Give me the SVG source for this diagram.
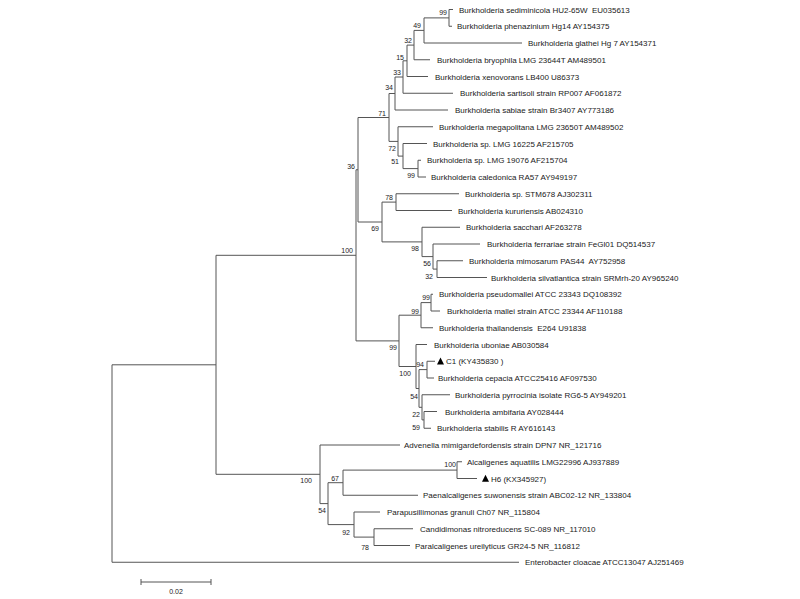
<svg xmlns="http://www.w3.org/2000/svg" width="800" height="599" viewBox="0 0 800 599">
<style>
.t{font-family:"Liberation Sans",Arial,sans-serif;font-size:8px;fill:#1a1a1a;white-space:pre}
.b{font-family:"Liberation Sans",Arial,sans-serif;font-size:7px;fill:#1a1a1a;text-anchor:end}
.e{fill:none;stroke:#555;stroke-width:1}
.m{fill:#000}
</style>
<rect width="800" height="599" fill="#fff"/>
<g id="connectors" class="e">
<path d="M449 9.5V26.25M424 17.9V43M414 30.4V59.75M407 45.1V76.5M403 60.8V93.25M395 77V110M389 93.5V141.4M398 126.75V156.1M403 143.5V168.6M418 160.25V177M358 117.5V222M382 202.1V241.9M396 193.75V210.5M422 227.25V256.6M433 244V269.1M437 260.75V277.5M356 169.75V340.9M399 315.2V366.5M421 302.6V327.75M431 294.25V311M416 344.5V388.5M419 369.6V407.3M427 361.25V378M422 394.75V419.9M424 411.5V428.25M216 255.3V474.3M320 445V503.6M328 482.7V524.6M343 470.1V495.25M457 461.75V478.5M354 512V537.1M374 528.75V545.5M112 364.8V562.25"/>
<path d="M424 17.9H449M414 30.4H424M407 45.1H414M403 60.8H407M395 77H403M389 93.5H395M358 117.5H389M389 141.4H398M398 156.1H403M403 168.6H418M356 169.75H358M358 222H382M382 202.1H396M382 241.9H422M422 256.6H433M433 269.1H437M216 255.3H356M356 340.9H399M399 315.2H421M421 302.6H431M399 366.5H416M416 388.5H419M419 369.6H427M419 407.3H422M422 419.9H424M112 364.8H216M216 474.3H320M320 503.6H328M328 482.7H343M343 470.1H457M328 524.6H354M354 537.1H374"/>
<path d="M449 9.5H453M449 26.25H452M424 43H522M414 59.75H430M407 76.5H428M403 93.25H453M395 110H448M398 126.75H433M403 143.5H427M418 160.25H421M418 177H426M396 193.75H459M396 210.5H452M422 227.25H460M433 244H480M437 260.75H463M437 277.5H487M431 294.25H433M431 311H440M421 327.75H433M416 344.5H427M427 361.25H435M427 378H434M422 394.75H450M424 411.5H437M424 428.25H431M320 445H400M457 461.75H462M457 478.5H477M343 495.25H418M354 512H380M374 528.75H413M374 545.5H410M112 562.25H519"/>
</g>
<g id="leaf-sediminicola"><text class="t" x="459" y="12.5">Burkholderia sediminicola HU2-65W  EU035613</text></g>
<g id="leaf-phenazinium"><text class="t" x="457" y="29.25">Burkholderia phenazinium Hg14 AY154375</text></g>
<g id="leaf-glathei"><text class="t" x="528" y="46">Burkholderia glathei Hg 7 AY154371</text></g>
<g id="leaf-bryophila"><text class="t" x="437" y="62.75">Burkholderia bryophila LMG 23644T AM489501</text></g>
<g id="leaf-xenovorans"><text class="t" x="435" y="79.5">Burkholderia xenovorans LB400 U86373</text></g>
<g id="leaf-sartisoli"><text class="t" x="460" y="96.25">Burkholderia sartisoli strain RP007 AF061872</text></g>
<g id="leaf-sabiae"><text class="t" x="455" y="113">Burkholderia sabiae strain Br3407 AY773186</text></g>
<g id="leaf-megapolitana"><text class="t" x="439" y="129.75">Burkholderia megapolitana LMG 23650T AM489502</text></g>
<g id="leaf-sp16225"><text class="t" x="433" y="146.5">Burkholderia sp. LMG 16225 AF215705</text></g>
<g id="leaf-sp19076"><text class="t" x="427" y="163.25">Burkholderia sp. LMG 19076 AF215704</text></g>
<g id="leaf-caledonica"><text class="t" x="431" y="180">Burkholderia caledonica RA57 AY949197</text></g>
<g id="leaf-stm678"><text class="t" x="465" y="196.75">Burkholderia sp. STM678 AJ302311</text></g>
<g id="leaf-kururiensis"><text class="t" x="458" y="213.5">Burkholderia kururiensis AB024310</text></g>
<g id="leaf-sacchari"><text class="t" x="466" y="230.25">Burkholderia sacchari AF263278</text></g>
<g id="leaf-ferrariae"><text class="t" x="487" y="247">Burkholderia ferrariae strain FeGl01 DQ514537</text></g>
<g id="leaf-mimosarum"><text class="t" x="469" y="263.75">Burkholderia mimosarum PAS44  AY752958</text></g>
<g id="leaf-silvatlantica"><text class="t" x="491" y="280.5">Burkholderia silvatlantica strain SRMrh-20 AY965240</text></g>
<g id="leaf-pseudomallei"><text class="t" x="439" y="297.25">Burkholderia pseudomallei ATCC 23343 DQ108392</text></g>
<g id="leaf-mallei"><text class="t" x="447" y="314">Burkholderia mallei strain ATCC 23344 AF110188</text></g>
<g id="leaf-thailandensis"><text class="t" x="439" y="330.75">Burkholderia thailandensis  E264 U91838</text></g>
<g id="leaf-uboniae"><text class="t" x="434" y="347.5">Burkholderia uboniae AB030584</text></g>
<g id="leaf-C1"><polygon class="m" points="437,364.5 444,364.5 440.5,357.5"/><text class="t" x="446" y="364.25">C1 (KY435830 )</text></g>
<g id="leaf-cepacia"><text class="t" x="438" y="381">Burkholderia cepacia ATCC25416 AF097530</text></g>
<g id="leaf-pyrrocinia"><text class="t" x="455" y="397.75">Burkholderia pyrrocinia isolate RG6-5 AY949201</text></g>
<g id="leaf-ambifaria"><text class="t" x="445" y="414.5">Burkholderia ambifaria AY028444</text></g>
<g id="leaf-stabilis"><text class="t" x="437" y="431.25">Burkholderia stabilis R AY616143</text></g>
<g id="leaf-advenella"><text class="t" x="404" y="448">Advenella mimigardefordensis strain DPN7 NR_121716</text></g>
<g id="leaf-alcaligenes"><text class="t" x="467" y="464.75">Alcaligenes aquatilis LMG22996 AJ937889</text></g>
<g id="leaf-H6"><polygon class="m" points="482,481.75 489,481.75 485.5,474.75"/><text class="t" x="491" y="481.5">H6 (KX345927)</text></g>
<g id="leaf-paenalcaligenes"><text class="t" x="423" y="498.25">Paenalcaligenes suwonensis strain ABC02-12 NR_133804</text></g>
<g id="leaf-parapusillimonas"><text class="t" x="387" y="515">Parapusillimonas granuli Ch07 NR_115804</text></g>
<g id="leaf-candidimonas"><text class="t" x="420" y="531.75">Candidimonas nitroreducens SC-089 NR_117010</text></g>
<g id="leaf-paralcaligenes"><text class="t" x="415" y="548.5">Paralcaligenes ureilyticus GR24-5 NR_116812</text></g>
<g id="leaf-enterobacter"><text class="t" x="525" y="565.25">Enterobacter cloacae ATCC13047 AJ251469</text></g>
<g id="bootstrap">
<g id="node-n1"><text class="b" x="447" y="15">99</text></g>
<g id="node-n2"><text class="b" x="421" y="27.5">49</text></g>
<g id="node-n3"><text class="b" x="412" y="42.5">32</text></g>
<g id="node-n4"><text class="b" x="404" y="59.5">15</text></g>
<g id="node-n5"><text class="b" x="401" y="74.5">33</text></g>
<g id="node-n6"><text class="b" x="393" y="90">34</text></g>
<g id="node-n7"><text class="b" x="386" y="115.5">71</text></g>
<g id="node-n8"><text class="b" x="396" y="150.5">72</text></g>
<g id="node-n9"><text class="b" x="399" y="164">51</text></g>
<g id="node-n10"><text class="b" x="415" y="178">99</text></g>
<g id="node-n11"><text class="b" x="355" y="168.5">36</text></g>
<g id="node-n12"><text class="b" x="393" y="199.5">78</text></g>
<g id="node-n13"><text class="b" x="379" y="230.5">69</text></g>
<g id="node-n14"><text class="b" x="419" y="250.5">98</text></g>
<g id="node-n15"><text class="b" x="431" y="265.5">56</text></g>
<g id="node-n16"><text class="b" x="433" y="278.5">32</text></g>
<g id="node-n17"><text class="b" x="353" y="252.5">100</text></g>
<g id="node-n18"><text class="b" x="430" y="299.5">99</text></g>
<g id="node-n19"><text class="b" x="419" y="313.5">99</text></g>
<g id="node-n20"><text class="b" x="397" y="349.5">99</text></g>
<g id="node-n21"><text class="b" x="424" y="366.5">94</text></g>
<g id="node-n22"><text class="b" x="411" y="375.5">100</text></g>
<g id="node-n23"><text class="b" x="418" y="398.5">54</text></g>
<g id="node-n24"><text class="b" x="420" y="416.5">22</text></g>
<g id="node-n25"><text class="b" x="420" y="429.5">59</text></g>
<g id="node-n26"><text class="b" x="312" y="482.5">100</text></g>
<g id="node-n27"><text class="b" x="339" y="480.5">67</text></g>
<g id="node-n28"><text class="b" x="456" y="466.5">100</text></g>
<g id="node-n29"><text class="b" x="326" y="512.5">54</text></g>
<g id="node-n30"><text class="b" x="350" y="534.5">92</text></g>
<g id="node-n31"><text class="b" x="369" y="549.5">78</text></g>
</g>
<g id="scale-bar">
<path class="e" d="M141 582H211M141 579V585M211 579V585"/>
<text class="b" style="text-anchor:middle" x="176" y="594">0.02</text>
</g>
</svg>
